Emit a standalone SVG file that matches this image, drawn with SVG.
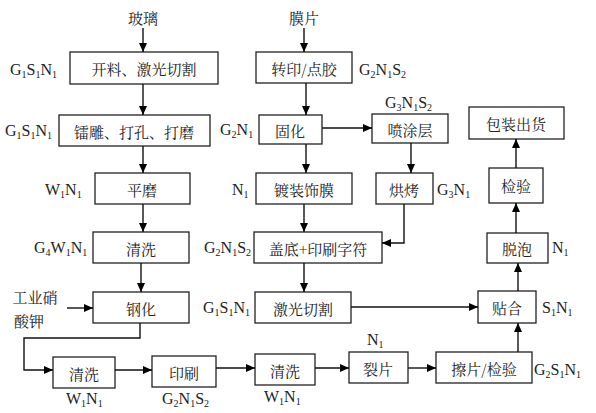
<svg xmlns="http://www.w3.org/2000/svg" width="596" height="413" viewBox="0 0 596 413">
<defs>
<marker id="ah" markerWidth="9" markerHeight="8" refX="9" refY="4" orient="auto" markerUnits="userSpaceOnUse">
<path d="M0,0 L9,4 L0,8 Z" fill="#000"/>
</marker>
<style>
rect{fill:#fff;stroke:#222;stroke-width:1.3}
.c path{fill:none;stroke:#111;stroke-width:1.4;marker-end:url(#ah)}
text{font-family:"Noto Serif CJK SC","Noto Sans CJK SC","Liberation Serif",serif;font-size:15px;fill:#222}
.t{text-anchor:middle;dominant-baseline:central}
.l{font-family:"Liberation Serif",serif;font-size:16px}
.s{font-size:10px}
</style>
</defs>
<g id="inputs">
<text class="t" x="143" y="17">玻璃</text>
<text class="t" x="304" y="17">膜片</text>
<text class="t" x="35" y="296">工业硝</text>
<text class="t" x="29" y="320">酸钾</text>
</g>
<g id="n1"><rect x="70" y="52" width="148" height="32"/><text class="t" x="144" y="68">开料、激光切割</text></g>
<g id="n2"><rect x="59" y="115" width="151" height="31"/><text class="t" x="134" y="131">镭雕、打孔、打磨</text></g>
<g id="n3"><rect x="95" y="173" width="95" height="31"/><text class="t" x="142" y="189">平磨</text></g>
<g id="n4"><rect x="93" y="232" width="96" height="31"/><text class="t" x="141" y="248">清洗</text></g>
<g id="n5"><rect x="93" y="292" width="96" height="31"/><text class="t" x="141" y="308">钢化</text></g>
<g id="n6"><rect x="53" y="357" width="62" height="31"/><text class="t" x="84" y="373">清洗</text></g>
<g id="n7"><rect x="152" y="356" width="64" height="31"/><text class="t" x="184" y="372">印刷</text></g>
<g id="n8"><rect x="255" y="354" width="60" height="31"/><text class="t" x="285" y="370">清洗</text></g>
<g id="n9"><rect x="349" y="352" width="59" height="31"/><text class="t" x="378" y="368">裂片</text></g>
<g id="n10"><rect x="436" y="352" width="96" height="31"/><text class="t" x="484" y="368">擦片/检验</text></g>
<g id="n11"><rect x="478" y="291" width="58" height="32"/><text class="t" x="507" y="307">贴合</text></g>
<g id="n12"><rect x="256" y="52" width="96" height="31"/><text class="t" x="304" y="68">转印/点胶</text></g>
<g id="n13"><rect x="259" y="115" width="63" height="29"/><text class="t" x="290" y="130">固化</text></g>
<g id="n14"><rect x="372" y="114" width="76" height="29"/><text class="t" x="410" y="129">喷涂层</text></g>
<g id="n15"><rect x="256" y="173" width="96" height="31"/><text class="t" x="304" y="189">镀装饰膜</text></g>
<g id="n16"><rect x="376" y="173" width="57" height="31"/><text class="t" x="404" y="189">烘烤</text></g>
<g id="n17"><rect x="254" y="232" width="128" height="31"/><text class="t" x="318" y="248">盖底+印刷字符</text></g>
<g id="n18"><rect x="255" y="292" width="96" height="31"/><text class="t" x="303" y="308">激光切割</text></g>
<g id="n19"><rect x="469" y="107" width="95" height="32"/><text class="t" x="516" y="123">包装出货</text></g>
<g id="n20"><rect x="489" y="168" width="54" height="35"/><text class="t" x="516" y="185">检验</text></g>
<g id="n21"><rect x="487" y="233" width="61" height="30"/><text class="t" x="517" y="248">脱泡</text></g>
<g id="labels" class="lbl">
<text class="l" x="10" y="75">G<tspan class="s" dy="3">1</tspan><tspan dy="-3">S</tspan><tspan class="s" dy="3">1</tspan><tspan dy="-3">N</tspan><tspan class="s" dy="3">1</tspan></text>
<text class="l" x="5" y="136">G<tspan class="s" dy="3">1</tspan><tspan dy="-3">S</tspan><tspan class="s" dy="3">1</tspan><tspan dy="-3">N</tspan><tspan class="s" dy="3">1</tspan></text>
<text class="l" x="45" y="195">W<tspan class="s" dy="3">1</tspan><tspan dy="-3">N</tspan><tspan class="s" dy="3">1</tspan></text>
<text class="l" x="34" y="253">G<tspan class="s" dy="3">4</tspan><tspan dy="-3">W</tspan><tspan class="s" dy="3">1</tspan><tspan dy="-3">N</tspan><tspan class="s" dy="3">1</tspan></text>
<text class="l" x="66" y="404">W<tspan class="s" dy="3">1</tspan><tspan dy="-3">N</tspan><tspan class="s" dy="3">1</tspan></text>
<text class="l" x="162" y="404">G<tspan class="s" dy="3">2</tspan><tspan dy="-3">N</tspan><tspan class="s" dy="3">1</tspan><tspan dy="-3">S</tspan><tspan class="s" dy="3">2</tspan></text>
<text class="l" x="264" y="402">W<tspan class="s" dy="3">1</tspan><tspan dy="-3">N</tspan><tspan class="s" dy="3">1</tspan></text>
<text class="l" x="367" y="345">N<tspan class="s" dy="3">1</tspan></text>
<text class="l" x="534" y="375">G<tspan class="s" dy="3">2</tspan><tspan dy="-3">S</tspan><tspan class="s" dy="3">1</tspan><tspan dy="-3">N</tspan><tspan class="s" dy="3">1</tspan></text>
<text class="l" x="542" y="313">S<tspan class="s" dy="3">1</tspan><tspan dy="-3">N</tspan><tspan class="s" dy="3">1</tspan></text>
<text class="l" x="359" y="75">G<tspan class="s" dy="3">2</tspan><tspan dy="-3">N</tspan><tspan class="s" dy="3">1</tspan><tspan dy="-3">S</tspan><tspan class="s" dy="3">2</tspan></text>
<text class="l" x="220" y="135">G<tspan class="s" dy="3">2</tspan><tspan dy="-3">N</tspan><tspan class="s" dy="3">1</tspan></text>
<text class="l" x="385" y="108">G<tspan class="s" dy="3">3</tspan><tspan dy="-3">N</tspan><tspan class="s" dy="3">1</tspan><tspan dy="-3">S</tspan><tspan class="s" dy="3">2</tspan></text>
<text class="l" x="232" y="195">N<tspan class="s" dy="3">1</tspan></text>
<text class="l" x="437" y="195">G<tspan class="s" dy="3">3</tspan><tspan dy="-3">N</tspan><tspan class="s" dy="3">1</tspan></text>
<text class="l" x="204" y="253">G<tspan class="s" dy="3">2</tspan><tspan dy="-3">N</tspan><tspan class="s" dy="3">1</tspan><tspan dy="-3">S</tspan><tspan class="s" dy="3">2</tspan></text>
<text class="l" x="203" y="313">G<tspan class="s" dy="3">1</tspan><tspan dy="-3">S</tspan><tspan class="s" dy="3">1</tspan><tspan dy="-3">N</tspan><tspan class="s" dy="3">1</tspan></text>
<text class="l" x="552" y="253">N<tspan class="s" dy="3">1</tspan></text>
</g>
<g id="connectors" class="c">
<path d="M143,28 V52"/>
<path d="M143,84 V115"/>
<path d="M143,146 V173"/>
<path d="M143,204 V232"/>
<path d="M141,263 V292"/>
<path d="M67,308 H93"/>
<path d="M140,323 V338 H24 V370 H53"/>
<path d="M115,370 H152"/>
<path d="M216,368 H255"/>
<path d="M315,368 H349"/>
<path d="M408,368 H436"/>
<path d="M518,352 V323"/>
<path d="M351,307 H478"/>
<path d="M518,291 V263"/>
<path d="M516,233 V203"/>
<path d="M516,168 V139"/>
<path d="M304,28 V52"/>
<path d="M306,83 V115"/>
<path d="M322,128 H372"/>
<path d="M306,144 V173"/>
<path d="M411,143 V173"/>
<path d="M304,204 V232"/>
<path d="M404,204 V243 H382"/>
<path d="M304,263 V292"/>
</g>
</svg>
